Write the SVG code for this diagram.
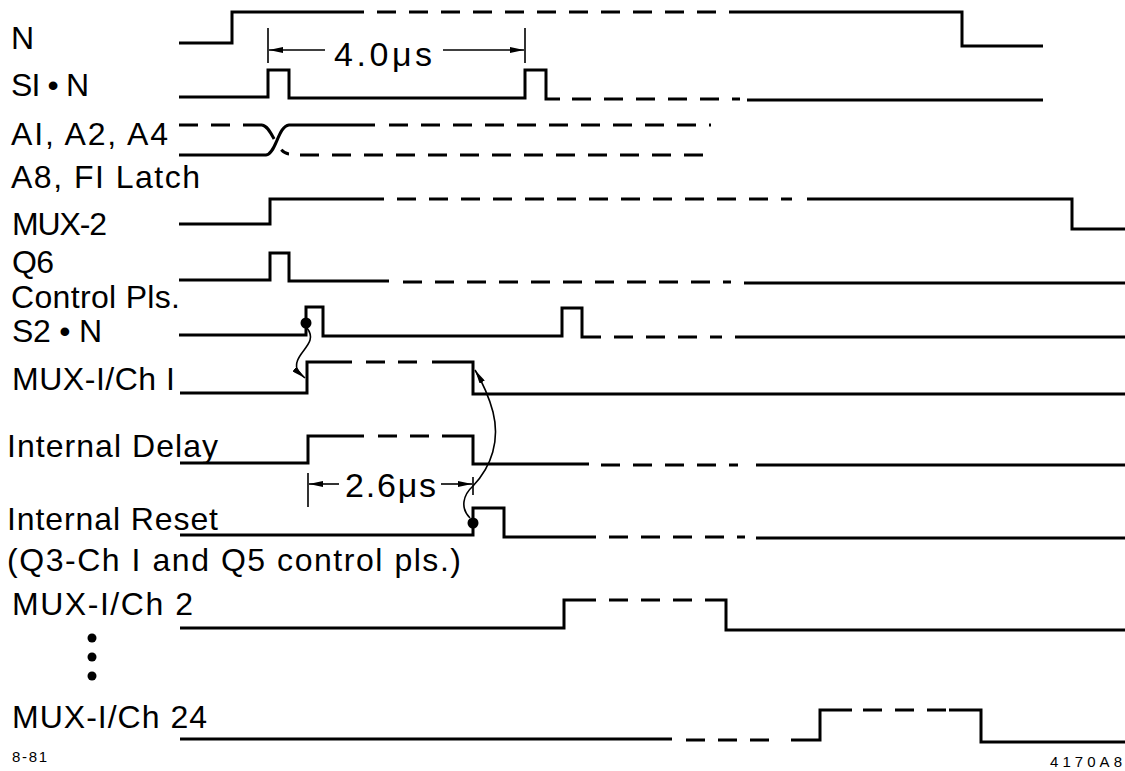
<svg xmlns="http://www.w3.org/2000/svg" width="1125" height="771" viewBox="0 0 1125 771">
<style>
.sig{fill:none;stroke:#000;stroke-width:3;stroke-linejoin:miter;stroke-linecap:butt}
.dash{fill:none;stroke:#000;stroke-width:3;stroke-dasharray:19 13}
.thin{fill:none;stroke:#000;stroke-width:1.6}
.lbl{font-family:"Liberation Sans",Arial,sans-serif;font-size:32px;fill:#000}
.dim{font-family:"Liberation Sans",Arial,sans-serif;font-size:34px;fill:#000}
.sm{font-family:"Liberation Sans",Arial,sans-serif;font-size:15px;fill:#000}
</style>
<defs>
<marker id="ah" viewBox="0 0 14 6" refX="14" refY="3" markerUnits="userSpaceOnUse" markerWidth="14" markerHeight="6" orient="auto"><path d="M0,0 L14,3 L0,6 z" fill="#000"/></marker>
</defs>
<rect width="1125" height="771" fill="#fff"/>

<g id="labels">
<text class="lbl" x="11" y="49" textLength="23">N</text>
<text class="lbl" x="11" y="96" textLength="78">SI • N</text>
<text class="lbl" x="11" y="145" textLength="157">AI, A2, A4</text>
<text class="lbl" x="11" y="188" textLength="189">A8, FI Latch</text>
<text class="lbl" x="12" y="235" textLength="95">MUX-2</text>
<text class="lbl" x="12" y="273" textLength="42">Q6</text>
<text class="lbl" x="11" y="308" textLength="169">Control Pls.</text>
<text class="lbl" x="12" y="342" textLength="90">S2 • N</text>
<text class="lbl" x="12" y="390" textLength="163">MUX-I/Ch I</text>
<text class="lbl" x="7" y="457" textLength="211">Internal Delay</text>
<text class="lbl" x="7" y="530" textLength="211">Internal Reset</text>
<text class="lbl" x="7" y="571" textLength="454">(Q3-Ch I and Q5 control pls.)</text>
<text class="lbl" x="12" y="615" textLength="181">MUX-I/Ch 2</text>
<text class="lbl" x="12" y="728" textLength="195">MUX-I/Ch 24</text>
<circle cx="92" cy="638" r="4.5" fill="#000"/>
<circle cx="92" cy="657" r="4.5" fill="#000"/>
<circle cx="92" cy="676" r="4.5" fill="#000"/>
<text class="sm" x="12" y="762" textLength="35">8-81</text>
<text class="sm" x="1050" y="767" textLength="72">4170A8</text>
</g>

<g id="sig-N">
<path class="sig" d="M179,43 H232 V12 H364"/>
<path class="dash" d="M377,12 H729"/>
<path class="sig" d="M729,12 H962 V46 H1043"/>
</g>

<g id="sig-S1N">
<path class="sig" d="M179,97 H268 V70 H289 V98 H525 V70 H546 V99 H560"/>
<path class="dash" d="M572,99 H740"/>
<path class="sig" d="M747,100 H1043"/>
</g>

<g id="sig-A">
<path class="dash" d="M179,125 H262"/>
<path class="dash" d="M262,125 C272,126 276,153 289,154"/>
<path class="sig" d="M179,155 H266 C276,154 278,126 289,125 H375"/>
<path class="dash" d="M389,125 H711"/>
<path class="dash" d="M300,155 H711"/>
</g>

<g id="sig-MUX2">
<path class="sig" d="M179,224 H270 V199 H384"/>
<path class="dash" d="M397,199 H792"/>
<path class="sig" d="M807,199 H1072 V229 H1125"/>
</g>

<g id="sig-Q6">
<path class="sig" d="M179,280 H270 V253 H289 V281 H389"/>
<path class="dash" d="M403,282 H731"/>
<path class="sig" d="M744,283 H1125"/>
</g>

<g id="sig-S2N">
<path class="sig" d="M179,335 H306 V307 H323 V336 H562 V308 H582 V337 H601"/>
<path class="dash" d="M614,337 H722"/>
<path class="sig" d="M735,337 H1125"/>
</g>

<g id="sig-MUX1-ch1">
<path class="sig" d="M180,393 H307 V362 H352"/>
<path class="dash" d="M366,362 H428"/>
<path class="sig" d="M432,362 H473 V394 H1125"/>
</g>

<g id="sig-int-delay">
<path class="sig" d="M180,463 H308 V436 H364"/>
<path class="dash" d="M378,436 H438"/>
<path class="sig" d="M442,436 H473 V464 H589"/>
<path class="dash" d="M601,465 H738"/>
<path class="sig" d="M756,465 H1125"/>
</g>

<g id="sig-int-reset">
<path class="sig" d="M180,535 H473 V508 H504 V537 H596"/>
<path class="dash" d="M609,537 H745"/>
<path class="sig" d="M756,538 H1125"/>
</g>

<g id="sig-MUX1-ch2">
<path class="sig" d="M180,628 H564 V600 H596"/>
<path class="dash" d="M609,600 H720"/>
<path class="sig" d="M720,600 H726 V630 H1125"/>
</g>

<g id="sig-MUX1-ch24">
<path class="sig" d="M180,739 H672"/>
<path class="dash" d="M686,740 H782"/>
<path class="sig" d="M791,740 H820 V710 H852"/>
<path class="dash" d="M863,710 H946"/>
<path class="sig" d="M949,710 H981 V742 H1125"/>
</g>

<g id="dim-4us">
<path class="thin" d="M268,28 V63 M525,28 V63"/>
<path class="thin" d="M325,50 H269" marker-end="url(#ah)"/>
<path class="thin" d="M443,50 H524" marker-end="url(#ah)"/>
<text class="dim" x="334" y="66" textLength="98">4.0μs</text>
</g>

<g id="dim-2us">
<path class="thin" d="M308,473 V507 M473,477 V495"/>
<path class="thin" d="M339,484 H309" marker-end="url(#ah)"/>
<path class="thin" d="M441,484 H472" marker-end="url(#ah)"/>
<text class="dim" x="345" y="497" textLength="91">2.6μs</text>
</g>

<g id="connectors">
<circle cx="306" cy="323" r="5.5" fill="#000"/>
<path class="thin" d="M307,328 C318,342 300,350 297,362 C295,369 299,373 305,378" marker-end="url(#ah)"/>
<circle cx="473" cy="523" r="5.5" fill="#000"/>
<path class="thin" d="M470,518 C460,508 463,495 473,486 C492,466 500,440 493,412 C489,397 484,385 475,370" marker-end="url(#ah)"/>
</g>
</svg>
